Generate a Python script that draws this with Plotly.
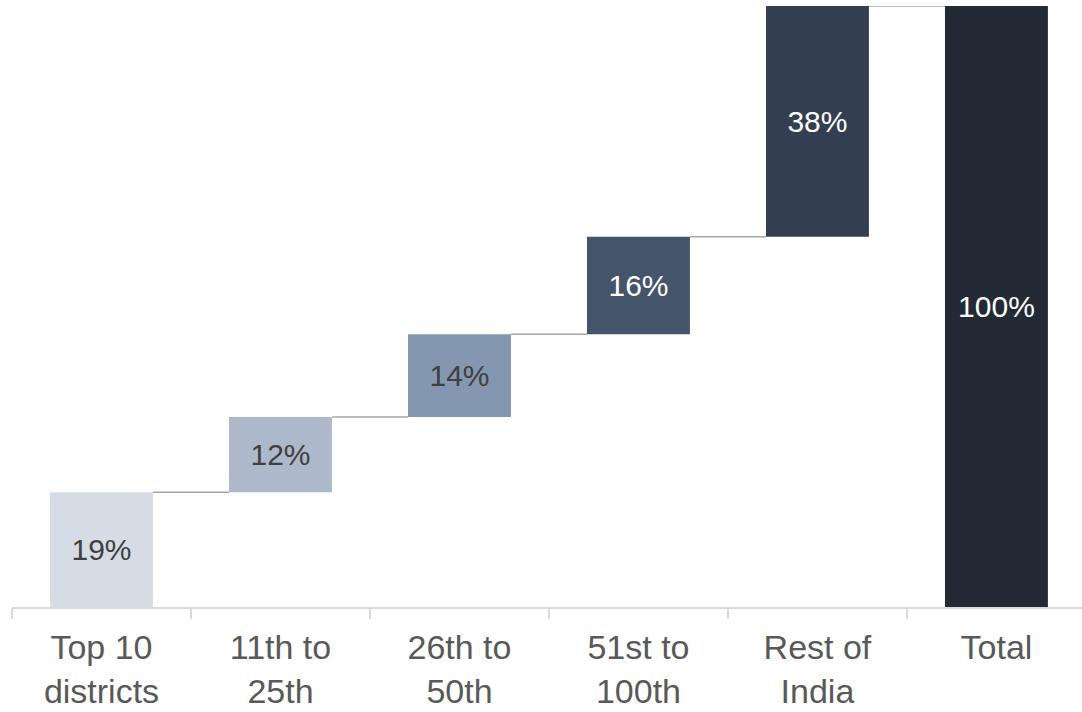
import plotly.graph_objects as go
import numpy as np

categories = ["Top 10<br>districts", "11th to<br>25th", "26th to<br>50th", "51st to<br>100th", "Rest of<br>India", "Total"]
values = [19.1, 12.5, 13.8, 16.2, 38.4]
labels = ["19%", "12%", "14%", "16%", "38%", "100%"]
bar_colors = ["#d6dce5", "#adb9ca", "#8497b0", "#44546a", "#333f50", "#222a35"]
text_colors = ["#404040", "#404040", "#404040", "#ffffff", "#ffffff", "#ffffff"]

total = float(np.sum(values))
cum = np.cumsum(values)
bases = list(np.concatenate([[0], cum[:-1]])) + [0]
heights = list(values) + [total]

BAR_W = 0.575
FONT = "Liberation Sans, Arial, sans-serif"

fig = go.Figure()

# waterfall used only for connectors
fig.add_trace(go.Waterfall(
    x=categories,
    y=list(values) + [0],
    measure=["relative"] * len(values) + ["total"],
    width=[BAR_W] * len(categories),
    increasing=dict(marker=dict(color="rgba(0,0,0,0)", line=dict(width=0))),
    decreasing=dict(marker=dict(color="rgba(0,0,0,0)", line=dict(width=0))),
    totals=dict(marker=dict(color="rgba(0,0,0,0)", line=dict(width=0))),
    connector=dict(line=dict(color="#a6a6a6", width=1.5), mode="between"),
    hoverinfo="skip",
    showlegend=False,
))

fig.add_trace(go.Bar(
    x=categories,
    y=heights,
    base=bases,
    width=[BAR_W] * len(categories),
    marker=dict(color=bar_colors, line=dict(width=0)),
    text=labels,
    textposition="inside",
    insidetextanchor="middle",
    textangle=0,
    constraintext="none",
    textfont=dict(family=FONT, size=30, color=text_colors),
    showlegend=False,
))

fig.update_layout(
    width=1082,
    height=712,
    margin=dict(l=12, r=0, t=6, b=105),
    paper_bgcolor="white",
    plot_bgcolor="white",
    barmode="overlay",
    font=dict(family=FONT),
    xaxis=dict(
        type="category",
        range=[-0.5, 5.478],
        automargin=False,
        showgrid=False,
        showline=True,
        linecolor="#d9d9d9",
        linewidth=1.5,
        ticks="outside",
        tickson="boundaries",
        ticklen=10,
        tickcolor="#d9d9d9",
        tickwidth=1.5,
        ticklabelstandoff=9,
        tickfont=dict(family=FONT, size=34, color="#595959"),
        zeroline=False,
    ),
    yaxis=dict(
        range=[0, 100],
        visible=False,
        automargin=False,
        showgrid=False,
        zeroline=False,
    ),
)

fig.write_html(
    "out.html",
    config={"displayModeBar": False},
    post_script="document.body.style.margin='0';document.body.style.overflow='hidden';",
)
